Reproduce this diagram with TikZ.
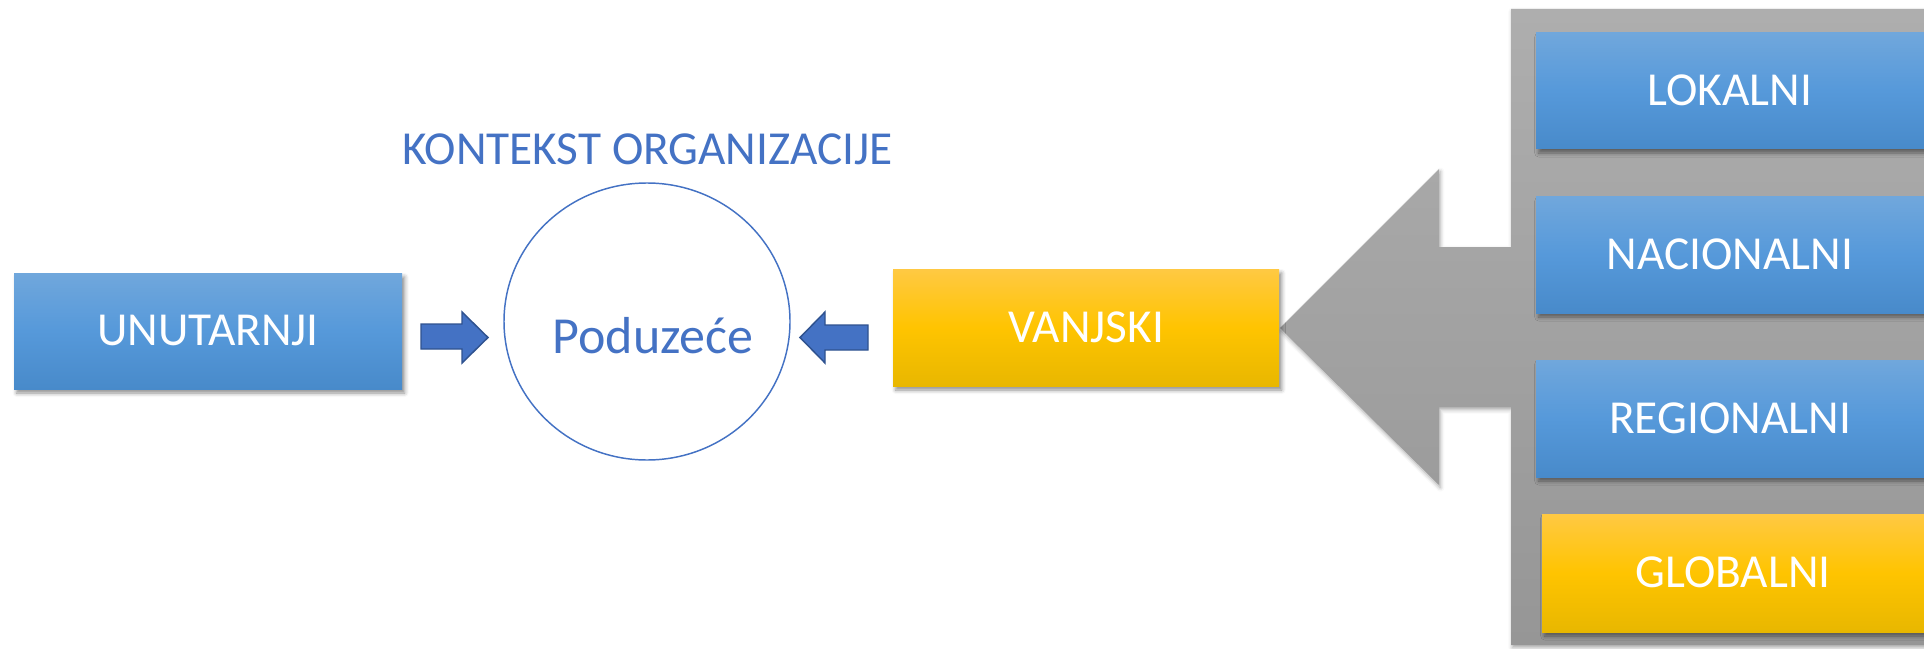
\documentclass[tikz,border=0pt]{standalone}
\usepackage{fontspec}
\setmainfont{Carlito}
\usetikzlibrary{shapes.geometric,shadows.blur}
\definecolor{bluetxt}{RGB}{68,114,196}
\definecolor{blueedge}{RGB}{47,82,143}
\definecolor{btop}{RGB}{112,167,220}
\definecolor{bmid}{RGB}{86,153,218}
\definecolor{bbot}{RGB}{72,138,202}
\definecolor{ytop}{RGB}{255,201,67}
\definecolor{ymid}{RGB}{255,196,0}
\definecolor{ybot}{RGB}{232,183,0}
\definecolor{gtop}{RGB}{174,174,174}
\definecolor{gbot}{RGB}{150,150,150}
\begin{document}
\begin{tikzpicture}[x=0.75pt,y=-0.75pt,
  boxbase/.style={rectangle, inner sep=0pt, text=white,
    font=\fontsize{35.5}{40}\selectfont, text height=22.4pt, text depth=0pt,
    blur shadow={shadow xshift=2pt, shadow yshift=-3pt, shadow blur radius=3pt, shadow opacity=45}},
  bluebox/.style={boxbase, top color=btop, bottom color=bbot, middle color=bmid},
  yellowbox/.style={boxbase, top color=ytop, bottom color=ybot, middle color=ymid},
  bluearrow/.style={fill=bluetxt, draw=blueedge, line width=1.1pt, line join=miter},
  graypanel/.style={top color=gtop, bottom color=gbot,
    blur shadow={shadow xshift=1pt, shadow yshift=-2pt, shadow blur radius=3pt, shadow opacity=35}},
  bluetext/.style={text=bluetxt, inner sep=0pt}
]
\useasboundingbox (0,0) rectangle (1924,649);

% gray panel with big arrow
\path[graypanel] (1280,328) -- (1439,169) -- (1439,247) -- (1511,247) -- (1511,9)
  -- (1960,9) -- (1960,645) -- (1511,645) -- (1511,407) -- (1439,407) -- (1439,485) -- cycle;

% boxes
\node[bluebox, minimum width=291pt, minimum height=87pt] (unut) at (208,331) {UNUTARNJI};
\node[yellowbox, minimum width=289.5pt, minimum height=87.75pt] (vanj) at (1086,327.5) {VANJSKI};
\node[bluebox, minimum width=291pt, minimum height=87pt] (lok) at (1730,91) {LOKALNI};
\node[bluebox, minimum width=291pt, minimum height=87pt] (nac) at (1730,255) {NACIONALNI};
\node[bluebox, minimum width=291pt, minimum height=87.75pt] (reg) at (1730,418.5) {REGIONALNI};
\node[yellowbox, minimum width=286.5pt, minimum height=88.5pt] (glob) at (1733,573) {GLOBALNI};

% circle
\node[ellipse, draw=bluetxt, line width=1.1pt, fill=white, inner sep=0pt,
  minimum width=214.5pt, minimum height=207.75pt] (firm) at (647,321.5) {};
\node[bluetext, anchor=base, font=\fontsize{39}{44}\selectfont] (firmlabel) at (653,353) {Poduzeće};

% title
\node[bluetext, anchor=base, font=\fontsize{35.5}{40}\selectfont] (title) at (647.5,165) {KONTEKST ORGANIZACIJE};

% blue block arrows
\draw[bluearrow] (421,324) -- (462,324) -- (462,312) -- (488,337.5) -- (462,363) -- (462,349) -- (421,349) -- cycle;
\draw[bluearrow] (868,325) -- (825,325) -- (825,312) -- (800,337.5) -- (825,363) -- (825,350) -- (868,350) -- cycle;
\end{tikzpicture}
\end{document}
